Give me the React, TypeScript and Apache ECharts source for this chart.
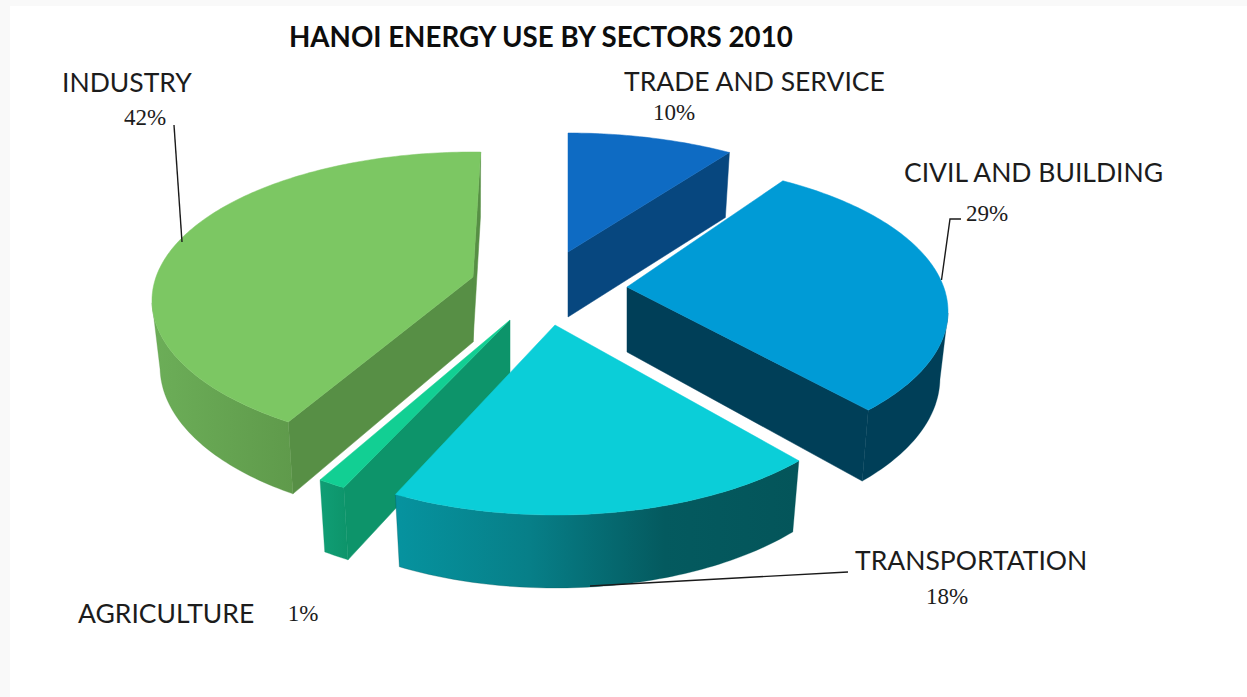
import React, { useEffect, useRef } from "react";
import * as echarts from "echarts";

// Sectors in clockwise order from twelve o'clock
const sectorNames = ["TRADE AND SERVICE", "CIVIL AND BUILDING", "TRANSPORTATION", "AGRICULTURE", "INDUSTRY"];
const sectorShares = [10, 29, 18, 1, 42];
const chartTitle = "HANOI ENERGY USE BY SECTORS 2010";

const WIDTH = 1247;
const HEIGHT = 697;

// Where each exploded wedge sits and how the perspective foreshortens it.
// turn: small angular corrections, in degrees, to the wedge's two cut edges.
const wedgeFrames = [
  { apex: [568, 252], rx: 332, back: 119, front: 190, turn: [0, 0.3] },
  { apex: [627, 287], rx: 321, back: 125, front: 174, turn: [-2, -2.4] },
  { apex: [555, 325], rx: 321, back: 120, front: 190, turn: [-0.6, -1.3] },
  { apex: [510, 320], rx: 321, back: 120, front: 190, turn: [-0.2, 0.4] },
  { apex: [473, 277], rx: 321, back: 125, front: 172, turn: [1.4, 1.6] },
];

const wedgeColors = [
  { top: "#0e6bc3", cut: "#07477f", rim: ["#07477f", "#07477f"] },
  { top: "#009bd6", cut: "#003f58", rim: ["#003f58", "#003f58"] },
  { top: "#0bced8", cut: "#04555a", rim: ["#06939f", "#077f88", "#045a5f", "#04555a"] },
  { top: "#12cf93", cut: "#0d946a", rim: ["#109e75", "#0d946a"] },
  { top: "#7cc763", cut: "#578f45", rim: ["#6cae58", "#5f9a4b"] },
];

// Far wedges first, so that nearer ones overlap them
const paintOrder = [0, 1, 4, 3, 2];

const labelLayout = [
  { name: [624, 81], share: [674, 112] },
  { name: [904, 172], share: [987, 213] },
  { name: [855, 560], share: [947, 596] },
  { name: [78, 613], share: [303, 613] },
  { name: [62, 82], share: [145, 117] },
];

const leaderLines = [
  [[174, 125], [182, 242]],
  [[961, 219], [950, 219], [941.5, 280]],
  [[848, 572], [590, 586]],
];

const NAME_FONT = "Lato, Carlito, sans-serif";
const SHARE_FONT = "'Liberation Serif', serif";

const toRad = (deg: number) => (deg * Math.PI) / 180;

function makeProjector(frame: (typeof wedgeFrames)[number]) {
  const k = (frame.front - frame.back) / (frame.front + frame.back);
  const a = frame.back * (1 + k);
  const r = frame.rx * Math.sqrt(1 - k * k);
  return (deg: number) => {
    const t = toRad(deg);
    const depthAxis = Math.cos(t);
    const d = 1 + k * depthAxis;
    return { dx: (r * Math.sin(t)) / d, dy: (-a * depthAxis) / d, z: depthAxis };
  };
}

function wedgeFaces(index: number) {
  const frame = wedgeFrames[index];
  const total = sectorShares.reduce((s, v) => s + v, 0);
  const before = sectorShares.slice(0, index).reduce((s, v) => s + v, 0);
  const startDeg = (before / total) * 360 + frame.turn[0];
  const endDeg = ((before + sectorShares[index]) / total) * 360 + frame.turn[1];
  const project = makeProjector(frame);
  const [ax, ay] = frame.apex;

  const topAt = (p: { dx: number; dy: number }) => [ax + p.dx, ay + p.dy];
  const bottomAt = (p: { dx: number; dy: number; z: number }) => [
    ax + p.dx * 0.975,
    ay + p.dy + 65 + 8 * Math.max(0, -p.z),
  ];
  const apexBottom = [ax, ay + 65];

  const steps = Math.max(4, Math.ceil(endDeg - startDeg));
  const arc = Array.from({ length: steps + 1 }, (_, i) => project(startDeg + ((endDeg - startDeg) * i) / steps));
  const topArc = arc.map(topAt);
  const mid = topArc[Math.floor(steps / 2)];

  // A cut wall shows only when the wedge's top lies on the far side of its upper edge
  const cutVisible = (edge: number[]) => {
    const ex = edge[0] - ax;
    const ey = edge[1] - ay;
    const sideTop = ex * (mid[1] - ay) - ey * (mid[0] - ax);
    const sideDown = ex;
    return sideTop * sideDown < 0;
  };

  const cuts: number[][][] = [];
  [0, steps].forEach((i) => {
    if (cutVisible(topArc[i])) {
      cuts.push([[ax, ay], topArc[i], bottomAt(arc[i]), apexBottom]);
    }
  });

  // The rim is drawn only where it turns towards the viewer
  const facing: number[] = [];
  for (let i = 0; i <= steps; i++) {
    const prev = arc[Math.max(0, i - 1)];
    const next = arc[Math.min(steps, i + 1)];
    if (next.dx < prev.dx) facing.push(i);
  }
  const rim =
    facing.length > 1
      ? [...facing.map((i) => topArc[i]), ...facing.slice().reverse().map((i) => bottomAt(arc[i]))]
      : null;

  const top = [[ax, ay], ...topArc];
  return { cuts, rim, top };
}

function renderWedge(params: any) {
  const index = paintOrder[params.dataIndex];
  const colors = wedgeColors[index];
  const { cuts, rim, top } = wedgeFaces(index);
  const children: any[] = cuts.map((points) => ({
    type: "polygon",
    shape: { points },
    style: { fill: colors.cut, stroke: colors.cut, lineWidth: 0.5 },
  }));
  if (rim) {
    // The rim runs right to left along its points; the gradient reads left to right
    const stops = colors.rim.map((color, i) => ({ offset: i / (colors.rim.length - 1), color }));
    children.push({
      type: "polygon",
      shape: { points: rim },
      style: {
        fill: new echarts.graphic.LinearGradient(0, 0, 1, 0, stops),
        stroke: colors.rim[colors.rim.length - 1],
        lineWidth: 0.3,
      },
    });
  }
  children.push({
    type: "polygon",
    shape: { points: top },
    style: { fill: colors.top, stroke: colors.top, lineWidth: 0.5 },
  });
  return { type: "group", children };
}

function buildOption() {
  const labels: any[] = [];
  sectorNames.forEach((name, i) => {
    labels.push({
      type: "text",
      x: labelLayout[i].name[0],
      y: labelLayout[i].name[1],
      style: { text: name, fill: "#1c1c1c", font: `26.5px ${NAME_FONT}`, textVerticalAlign: "middle" },
    });
    labels.push({
      type: "text",
      x: labelLayout[i].share[0],
      y: labelLayout[i].share[1],
      style: {
        text: `${sectorShares[i]}%`,
        fill: "#1c1c1c",
        font: `23px ${SHARE_FONT}`,
        textAlign: "center",
        textVerticalAlign: "middle",
      },
    });
  });

  return {
    animation: false,
    backgroundColor: "#ffffff",
    title: {
      text: chartTitle,
      left: 284,
      top: 17,
      textStyle: { fontFamily: NAME_FONT, fontWeight: "bold", fontSize: 27.7, color: "#0d0d0d" },
    },
    graphic: [
      { type: "rect", z: -2, shape: { x: 0, y: 0, width: WIDTH, height: 6 }, style: { fill: "#f9f9f9" } },
      { type: "rect", z: -2, shape: { x: 0, y: 0, width: 10, height: HEIGHT }, style: { fill: "#f9f9f9" } },
      ...leaderLines.map((points) => ({
        type: "polyline",
        z: 5,
        shape: { points },
        style: { stroke: "#1a1a1a", lineWidth: 1.4, fill: "none" },
      })),
      ...labels,
    ],
    series: [
      {
        type: "custom",
        coordinateSystem: "none",
        silent: true,
        renderItem: renderWedge,
        data: paintOrder.map((i) => sectorShares[i]),
      },
    ],
  };
}

export default function App() {
  const ref = useRef<HTMLDivElement>(null);
  useEffect(() => {
    if (!ref.current) return;
    const chart = echarts.init(ref.current, undefined, { renderer: "svg" });
    chart.setOption(buildOption() as any);
    return () => chart.dispose();
  }, []);
  return <div ref={ref} style={{ position: "absolute", left: 0, top: 0, width: WIDTH, height: HEIGHT }} />;
}
